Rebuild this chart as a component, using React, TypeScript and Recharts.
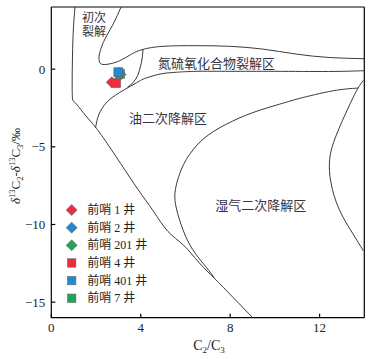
import React from 'react';
import { ComposedChart, Line, Scatter, XAxis, YAxis, ReferenceLine, ReferenceDot } from 'recharts';

// axis ticks
const xTicks = [0, 4, 8, 12];
const yTicks = [0, -5, -10, -15];

// boundary curves (C2/C3, δ13C2-δ13C3)
const primaryLeft = [
  { x: 1.06, y: 4 }, { x: 0.98, y: 2.37 }, { x: 0.94, y: 0.21 }, { x: 0.94, y: -1.72 },
  { x: 1.06, y: -2.15 }, { x: 1.43, y: -2.8 }, { x: 1.87, y: -3.55 }, { x: 2.32, y: -4.41 },
  { x: 3.1, y: -6.07 }, { x: 3.88, y: -7.75 }, { x: 4.55, y: -9.11 }, { x: 5.22, y: -10.45 },
  { x: 5.92, y: -11.34 }, { x: 6.63, y: -12.49 }, { x: 7.3, y: -13.47 }, { x: 8.12, y: -14.68 },
  { x: 9.01, y: -16 },
];
const nsoTop = [
  { x: 3.12, y: 4 }, { x: 2.77, y: 2.91 }, { x: 2.4, y: 1.94 }, { x: 2.17, y: 1.08 },
  { x: 2.14, y: 0.54 }, { x: 2.25, y: 0.32 }, { x: 2.54, y: 0.32 }, { x: 3.06, y: 0.54 },
  { x: 3.59, y: 0.97 }, { x: 4.1, y: 1.27 }, { x: 5.0, y: 1.47 }, { x: 6.48, y: 1.51 },
  { x: 7.97, y: 1.47 }, { x: 9.46, y: 1.29 }, { x: 10.95, y: 0.97 }, { x: 12.43, y: 0.75 },
  { x: 14, y: 0.67 },
];
const nsoInner = [
  { x: 4.1, y: 1.27 }, { x: 4.06, y: 0.65 }, { x: 3.98, y: 0.13 }, { x: 3.87, y: -0.39 },
  { x: 3.66, y: -0.86 }, { x: 3.4, y: -1.18 },
];
const oilTop = [
  { x: 14, y: -0.1 }, { x: 12.4, y: -0.15 }, { x: 10, y: -0.14 }, { x: 8, y: -0.14 },
  { x: 6.5, y: -0.14 }, { x: 5.6, y: -0.2 }, { x: 5.0, y: -0.28 }, { x: 4.5, y: -0.45 },
  { x: 4.1, y: -0.65 }, { x: 3.81, y: -0.88 }, { x: 3.06, y: -1.5 }, { x: 2.47, y: -2.15 },
  { x: 2.12, y: -2.95 }, { x: 1.98, y: -3.78 },
];
const wetGas = [
  { x: 13.72, y: -1.22 }, { x: 12.58, y: -1.4 }, { x: 11.09, y: -1.89 }, { x: 10.2, y: -2.26 },
  { x: 9.01, y: -2.8 }, { x: 7.82, y: -3.55 }, { x: 6.78, y: -4.52 }, { x: 6.04, y: -5.81 },
  { x: 5.68, y: -7.0 }, { x: 5.53, y: -8.0 }, { x: 5.6, y: -9.0 }, { x: 5.89, y: -10.34 },
  { x: 6.33, y: -11.63 }, { x: 6.93, y: -12.75 }, { x: 7.3, y: -13.47 },
];
const rightCurve = [
  { x: 13.96, y: -0.72 }, { x: 13.72, y: -1.22 }, { x: 13.32, y: -2.37 }, { x: 12.73, y: -4.31 },
  { x: 12.45, y: -5.81 }, { x: 12.51, y: -7.32 }, { x: 12.88, y: -9.04 }, { x: 13.47, y: -10.55 },
  { x: 13.96, y: -11.7 },
];

// wells
const well1 = [{ x: 2.7, y: -0.85 }];
const well2 = [{ x: 3.05, y: -0.25 }];
const well201 = [{ x: 3.1, y: -0.35 }];
const well4 = [{ x: 2.9, y: -0.9 }];
const well401 = [{ x: 3.0, y: -0.2 }];
const well7 = [{ x: 3.07, y: -0.3 }];

const legendItems = [
  { name: '前哨 1 井', color: '#ec2d3c', shape: 'diamond' },
  { name: '前哨 2 井', color: '#2189d0', shape: 'diamond' },
  { name: '前哨 201 井', color: '#1fa553', shape: 'diamond' },
  { name: '前哨 4 井', color: '#ec2d3c', shape: 'square' },
  { name: '前哨 401 井', color: '#2189d0', shape: 'square' },
  { name: '前哨 7 井', color: '#1fa553', shape: 'square' },
];

const regionLabels = [
  { text: '初次', x: 1.91, y: 3.33, size: 12 },
  { text: '裂解', x: 1.91, y: 2.42, size: 12 },
  { text: '氮硫氧化合物裂解区', x: 7.39, y: 0.4, size: 13 },
  { text: '油二次降解区', x: 5.22, y: -3.18, size: 13 },
  { text: '湿气二次降解区', x: 9.37, y: -8.79, size: 13 },
];

const FONT = "'Liberation Serif', 'Noto Sans CJK SC', serif";
const CURVE = '#3a3a3a';

const diamondPath = (cx: number, cy: number, r: number) =>
  `M${cx},${cy - r}L${cx + r},${cy}L${cx},${cy + r}L${cx - r},${cy}Z`;

const makeDiamond = (color: string) => (p: any) =>
  <path d={diamondPath(p.cx, p.cy, 5.5)} fill={color} stroke="#666" strokeWidth={0.6} />;
const makeSquare = (color: string) => (p: any) =>
  <rect x={p.cx - 4.5} y={p.cy - 4.5} width={9} height={9} fill={color} stroke="#666" strokeWidth={0.6} />;

const fmt = (v: number) => (v < 0 ? '\u2212' + Math.abs(v) : String(v));

const curveProps = {
  dataKey: 'y',
  type: 'natural' as const,
  stroke: CURVE,
  strokeWidth: 1,
  dot: false,
  activeDot: false,
  isAnimationActive: false,
  legendType: 'none' as const,
};

export default function App() {
  return (
    <div style={{ position: 'absolute', left: 0, top: 0, width: 373, height: 359, background: '#fff' }}>
      <ComposedChart width={373} height={359} margin={{ top: 7, right: 8.7, bottom: 0, left: 0 }}>
        <XAxis
          type="number" dataKey="x" domain={[0, 14]} ticks={xTicks} allowDataOverflow
          height={41.3} stroke="#000" strokeWidth={1.2} tickSize={-4} tickMargin={9}
          tick={{ fill: '#222', fontSize: 13, fontFamily: FONT }}
          label={{
            content: () => (
              <text x={209} y={350} textAnchor="middle" fill="#222" fontSize={14} fontFamily={FONT}>
                C<tspan fontSize={9} dy={3}>2</tspan><tspan dy={-3}>/C</tspan><tspan fontSize={9} dy={3}>3</tspan>
              </text>
            ),
          }}
        />
        <YAxis
          type="number" domain={[-16, 4]} ticks={yTicks} allowDataOverflow
          width={51.3} stroke="#000" strokeWidth={1.2} tickSize={-4} tickMargin={10}
          tickFormatter={fmt}
          tick={{ fill: '#222', fontSize: 13, fontFamily: FONT }}
          label={{
            content: () => (
              <text x={20} y={166} transform="rotate(-90 20 166)" textAnchor="middle" fill="#222" fontSize={13} fontFamily={FONT}>
                <tspan fontStyle="italic">δ</tspan><tspan fontSize={8.5} dy={-5}>13</tspan><tspan dy={5}>C</tspan>
                <tspan fontSize={8.5} dy={3}>2</tspan><tspan dy={-3}>-</tspan><tspan fontStyle="italic">δ</tspan>
                <tspan fontSize={8.5} dy={-5}>13</tspan><tspan dy={5}>C</tspan><tspan fontSize={8.5} dy={3}>3</tspan>
                <tspan dy={-3}>/‰</tspan>
              </text>
            ),
          }}
        />
        <ReferenceLine y={4} stroke="#000" strokeWidth={1.2} />
        <ReferenceLine x={14} stroke="#000" strokeWidth={1.2} />

        <Line data={primaryLeft} {...curveProps} />
        <Line data={nsoTop} {...curveProps} />
        <Line data={nsoInner} {...curveProps} />
        <Line data={oilTop} {...curveProps} />
        <Line data={wetGas} {...curveProps} />
        <Line data={rightCurve} {...curveProps} />

        {regionLabels.map((r) => (
          <ReferenceDot key={r.text} x={r.x} y={r.y} r={0} stroke="none"
            label={{ value: r.text, position: 'center', fill: '#333344', fontSize: r.size, fontFamily: FONT }} />
        ))}

        <Scatter data={well1} dataKey="y" isAnimationActive={false} shape={makeDiamond('#ec2d3c')} />
        <Scatter data={well2} dataKey="y" isAnimationActive={false} shape={makeDiamond('#2189d0')} />
        <Scatter data={well201} dataKey="y" isAnimationActive={false} shape={makeDiamond('#1fa553')} />
        <Scatter data={well7} dataKey="y" isAnimationActive={false} shape={makeSquare('#1fa553')} />
        <Scatter data={well4} dataKey="y" isAnimationActive={false} shape={makeSquare('#ec2d3c')} />
        <Scatter data={well401} dataKey="y" isAnimationActive={false} shape={makeSquare('#2189d0')} />
      </ComposedChart>

      <svg width={120} height={110} style={{ position: 'absolute', left: 60, top: 200 }}>
        {legendItems.map((it, i) => {
          const cy = 10 + i * 17.65;
          return (
            <g key={it.name}>
              {it.shape === 'diamond'
                ? <path d={diamondPath(11.7, cy, 5.5)} fill={it.color} stroke="#666" strokeWidth={0.6} />
                : <rect x={7.5} y={cy - 4.2} width={8.4} height={8.4} fill={it.color} stroke="#666" strokeWidth={0.6} />}
              <text x={27.3} y={cy} dominantBaseline="central" fontSize={12} fill="#222" fontFamily={FONT}>{it.name}</text>
            </g>
          );
        })}
      </svg>
    </div>
  );
}
